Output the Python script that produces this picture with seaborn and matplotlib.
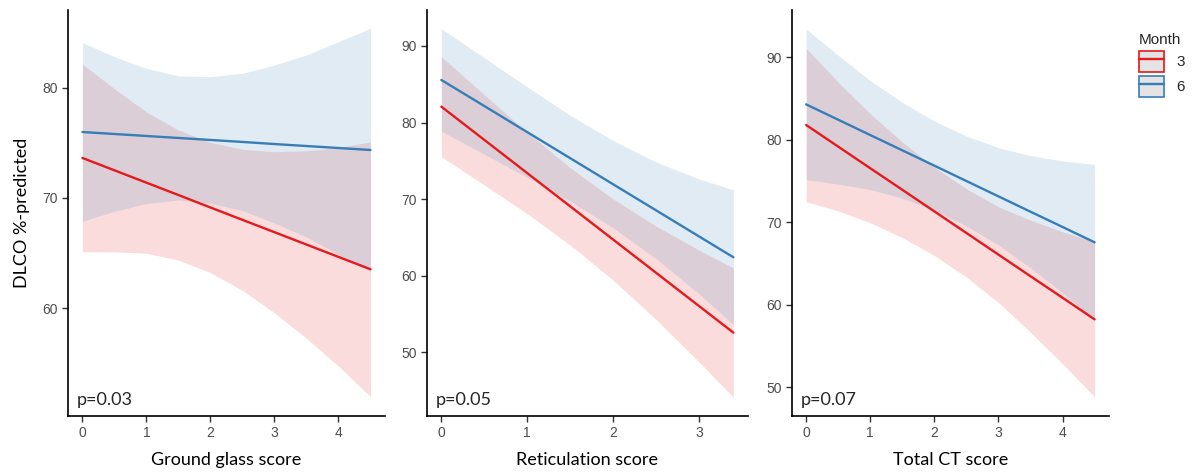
import numpy as np
import pandas as pd
import matplotlib
matplotlib.use("Agg")
import matplotlib.pyplot as plt
import seaborn as sns
from matplotlib.patches import Patch
from matplotlib.lines import Line2D
from matplotlib.legend_handler import HandlerTuple

sns.set_theme(style="ticks")
plt.rcParams["font.family"] = ["Liberation Sans", "DejaVu Sans"]

LABEL_FONT = ["Lato", "DejaVu Sans"]
colors = {"3": "#E41A1C", "6": "#377EB8"}

# ── Ground glass score ────────────────────────────────────
gg_x = [0, 0.5, 1, 1.5, 2, 2.5, 3, 3.5, 4, 4.5]
gg_fit_3 = [73.63, 72.51, 71.39, 70.27, 69.14, 68.02, 66.90, 65.78, 64.66, 63.54]
gg_lo_3 = [65.13, 65.11, 64.99, 64.37, 63.24, 61.62, 59.60, 57.28, 54.76, 51.99]
gg_hi_3 = [82.13, 79.91, 77.79, 76.17, 75.04, 74.42, 74.20, 74.28, 74.56, 75.09]
gg_fit_6 = [75.98, 75.80, 75.62, 75.44, 75.26, 75.08, 74.89, 74.71, 74.53, 74.35]
gg_lo_6 = [67.88, 68.79, 69.49, 69.82, 69.52, 68.86, 67.73, 66.46, 64.89, 63.32]
gg_hi_6 = [84.08, 82.81, 81.75, 81.06, 81.00, 81.30, 82.05, 82.96, 84.17, 85.38]

# ── Reticulation score ────────────────────────────────────
ret_x = [0, 0.5, 1, 1.5, 2, 2.5, 3, 3.4]
ret_fit_3 = [82.08, 77.74, 73.40, 69.06, 64.72, 60.38, 56.04, 52.57]
ret_lo_3 = [75.55, 71.84, 68.10, 64.01, 59.42, 54.28, 48.74, 44.12]
ret_hi_3 = [88.61, 83.64, 78.70, 74.11, 70.02, 66.48, 63.34, 61.02]
ret_fit_6 = [85.56, 82.16, 78.75, 75.35, 71.94, 68.54, 65.13, 62.41]
ret_lo_6 = [78.86, 75.86, 72.85, 69.75, 66.24, 62.24, 57.63, 53.61]
ret_hi_6 = [92.26, 88.46, 84.65, 80.95, 77.64, 74.84, 72.63, 71.21]

# ── Total CT score ────────────────────────────────────────
ct_x = [0, 0.5, 1, 1.5, 2, 2.5, 3, 3.5, 4, 4.5]
ct_fit_3 = [81.80, 79.18, 76.56, 73.95, 71.33, 68.71, 66.09, 63.47, 60.86, 58.24]
ct_lo_3 = [72.50, 71.38, 69.96, 68.15, 65.98, 63.36, 60.29, 56.67, 52.86, 48.84]
ct_hi_3 = [91.10, 86.98, 83.16, 79.75, 76.68, 74.06, 71.89, 70.27, 68.86, 67.64]
ct_fit_6 = [84.30, 82.44, 80.58, 78.73, 76.87, 75.01, 73.15, 71.29, 69.44, 67.58]
ct_lo_6 = [75.17, 74.64, 73.98, 72.93, 71.47, 69.56, 67.25, 64.49, 61.44, 58.13]
ct_hi_6 = [93.43, 90.24, 87.18, 84.53, 82.27, 80.46, 79.05, 78.09, 77.44, 77.03]

panels = [
    dict(x=gg_x, fit3=gg_fit_3, lo3=gg_lo_3, hi3=gg_hi_3,
         fit6=gg_fit_6, lo6=gg_lo_6, hi6=gg_hi_6,
         xlabel="Ground glass score", p="p=0.03",
         xticks=[0, 1, 2, 3, 4], yticks=[60, 70, 80],
         xlim=(-0.225, 4.725), ylim=(50.24, 87.04),
         pos=[0.0570, 0.1205, 0.2659, 0.8584]),
    dict(x=ret_x, fit3=ret_fit_3, lo3=ret_lo_3, hi3=ret_hi_3,
         fit6=ret_fit_6, lo6=ret_lo_6, hi6=ret_hi_6,
         xlabel="Reticulation score", p="p=0.05",
         xticks=[0, 1, 2, 3], yticks=[50, 60, 70, 80, 90],
         xlim=(-0.17, 3.57), ylim=(41.68, 94.70),
         pos=[0.3580, 0.1205, 0.2695, 0.8584]),
    dict(x=ct_x, fit3=ct_fit_3, lo3=ct_lo_3, hi3=ct_hi_3,
         fit6=ct_fit_6, lo6=ct_lo_6, hi6=ct_hi_6,
         xlabel="Total CT score", p="p=0.07",
         xticks=[0, 1, 2, 3, 4], yticks=[50, 60, 70, 80, 90],
         xlim=(-0.225, 4.725), ylim=(46.53, 95.74),
         pos=[0.6642, 0.1205, 0.2662, 0.8584]),
]

fig = plt.figure(figsize=(11.92, 4.73), dpi=100)

for i, pn in enumerate(panels):
    ax = fig.add_axes(pn["pos"])
    n = len(pn["x"])
    df = pd.DataFrame({
        "x": list(pn["x"]) * 2,
        "fit": list(pn["fit3"]) + list(pn["fit6"]),
        "Month": ["3"] * n + ["6"] * n,
    })
    ax.fill_between(pn["x"], pn["lo3"], pn["hi3"], color=colors["3"],
                    alpha=0.15, lw=0)
    ax.fill_between(pn["x"], pn["lo6"], pn["hi6"], color=colors["6"],
                    alpha=0.15, lw=0)
    sns.lineplot(data=df, x="x", y="fit", hue="Month", palette=colors,
                 ax=ax, legend=False, lw=1.7)

    ax.set_xlim(pn["xlim"])
    ax.set_ylim(pn["ylim"])
    ax.set_xticks(pn["xticks"])
    ax.set_yticks(pn["yticks"])
    ax.tick_params(colors="#4D4D4D", labelsize=10, length=4, width=1,
                   pad=3)
    ax.tick_params(axis="both", color="#333333")
    for side in ["top", "right"]:
        ax.spines[side].set_visible(False)
    for side in ["left", "bottom"]:
        ax.spines[side].set_color("black")
        ax.spines[side].set_linewidth(1.2)

    ax.set_xlabel(pn["xlabel"], fontsize=13, family=LABEL_FONT,
                  color="black", labelpad=9)
    if i == 0:
        ax.set_ylabel("DLCO %-predicted", fontsize=13, family=LABEL_FONT,
                      color="black", labelpad=9)
    else:
        ax.set_ylabel("")
    ax.text(0.028, 0.027, pn["p"], transform=ax.transAxes, fontsize=13,
            family=LABEL_FONT, va="baseline", ha="left")

handles = [
    (Patch(facecolor="#E4E4E4", edgecolor=colors[m], lw=1.2),
     Line2D([], [], color=colors[m], lw=1.7))
    for m in ["3", "6"]
]
leg = fig.legend(handles, ["3", "6"], title="Month",
                 handler_map={tuple: HandlerTuple(ndivide=1, pad=0)},
                 loc="upper left", bbox_to_anchor=(1139 / 1192, 1 - 33 / 473),
                 frameon=False, fontsize=11, title_fontsize=11,
                 borderpad=0, borderaxespad=0,
                 handlelength=1.65, handleheight=1.75, labelspacing=0.25,
                 handletextpad=0.8, alignment="left")

fig.savefig("out.png", dpi=100)
